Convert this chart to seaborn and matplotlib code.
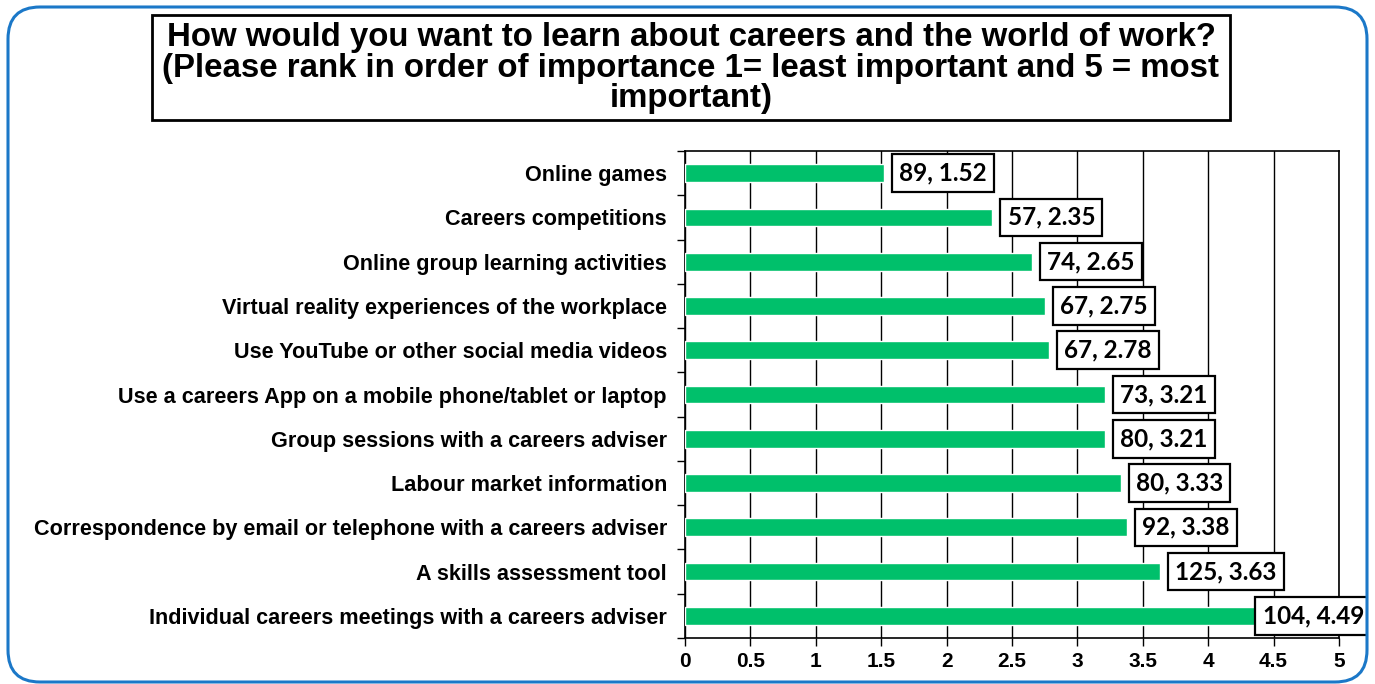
import matplotlib
matplotlib.use("Agg")
import matplotlib.pyplot as plt
from matplotlib.patches import FancyBboxPatch
from matplotlib.ticker import FixedLocator
import numpy as np
import pandas as pd
import seaborn as sns

categories = [
    "Online games",
    "Careers competitions",
    "Online group learning activities",
    "Virtual reality experiences of the workplace",
    "Use YouTube or other social media videos",
    "Use a careers App on a mobile phone/tablet or laptop",
    "Group sessions with a careers adviser",
    "Labour market information",
    "Correspondence by email or telephone with a careers adviser",
    "A skills assessment tool",
    "Individual careers meetings with a careers adviser",
]
responses = [89, 57, 74, 67, 67, 73, 80, 80, 92, 125, 104]
mean_rank = [1.52, 2.35, 2.65, 2.75, 2.78, 3.21, 3.21, 3.33, 3.38, 3.63, 4.49]
x_ticks = [0, 0.5, 1, 1.5, 2, 2.5, 3, 3.5, 4, 4.5, 5]

title = ("How would you want to learn about careers and the world of work?\n"
         "(Please rank in order of importance 1= least important and 5 = most\n"
         "important)")

df = pd.DataFrame({"item": categories, "score": mean_rank, "n": responses})

sns.set_theme(style="white")
plt.rcParams["font.family"] = ["Liberation Sans", "DejaVu Sans"]
for key in ("text.color", "axes.labelcolor", "xtick.color", "ytick.color"):
    plt.rcParams[key] = "black"

W, H = 1375, 684
fig = plt.figure(figsize=(W / 100, H / 100), dpi=100)

# pixel-space overlay for the title box
bg = fig.add_axes([0, 0, 1, 1], zorder=0)
bg.set_xlim(0, W)
bg.set_ylim(H, 0)
bg.axis("off")

ax = fig.add_axes([685 / W, 1 - 638 / H, (1339 - 685) / W, (638 - 151) / H], zorder=1)
sns.barplot(data=df, x="score", y="item", order=categories, color="#00c06b",
            saturation=1, width=0.4, ax=ax, zorder=3)

ax.set_xlim(0, 5)
ax.set_ylim(len(categories) - 0.5, -0.5)
ax.xaxis.set_major_locator(FixedLocator(x_ticks))
ax.set_xticklabels([f"{t:g}" for t in x_ticks], fontsize=15, fontweight="bold")
ax.grid(axis="x", color="black", linewidth=1.0, zorder=0)
ax.set_axisbelow(True)
ax.set_xlabel("")
ax.set_ylabel("")
ax.tick_params(axis="y", which="major", length=0, pad=13, labelsize=15.6)
for lab in ax.get_yticklabels():
    lab.set_fontweight("bold")
ax.yaxis.set_minor_locator(FixedLocator(np.arange(-0.5, len(categories), 1)))
ax.tick_params(axis="y", which="minor", length=6, width=1, color="black", direction="out", left=True)
ax.tick_params(axis="x", which="major", length=6, width=1, color="black", direction="out",
               bottom=True, pad=4)
for s in ax.spines.values():
    s.set_color("black")
    s.set_linewidth(1.2)

# rounded outer frame, drawn on top and also used to clip the value labels
top = fig.add_axes([0, 0, 1, 1], zorder=10)
top.set_xlim(0, W)
top.set_ylim(H, 0)
top.axis("off")
top.patch.set_alpha(0)
frame = FancyBboxPatch((8, 7), W - 16, H - 9, boxstyle="round,pad=0,rounding_size=32",
                       facecolor="none", edgecolor="#1b78c8", linewidth=2.2)
top.add_patch(frame)

# value labels: "responses, mean rank"; the last one is pulled back over its bar end
for i, (v, n) in enumerate(zip(mean_rank, responses)):
    dx = 11 if v < 4.4 else -7
    ann = ax.annotate(f"{n}, {v:.2f}", xy=(v, i), xytext=(dx, 0), textcoords="offset points",
                      ha="left", va="center", fontsize=17.5, fontweight="bold",
                      family=["Lato", "DejaVu Sans"], annotation_clip=False, zorder=5,
                      bbox=dict(boxstyle="square,pad=0.3", facecolor="white",
                                edgecolor="black", linewidth=1.6))
    ann.set_clip_path(frame)
    ann.get_bbox_patch().set_clip_path(frame)

# title box
bg.add_patch(plt.Rectangle((152, 15), 1230 - 152, 105, facecolor="white", edgecolor="black",
                           linewidth=2))
bg.text(691, 68, title, ha="center", va="center", fontsize=23.8, fontweight="bold",
        linespacing=0.98)

fig.savefig("out.png", dpi=100)
